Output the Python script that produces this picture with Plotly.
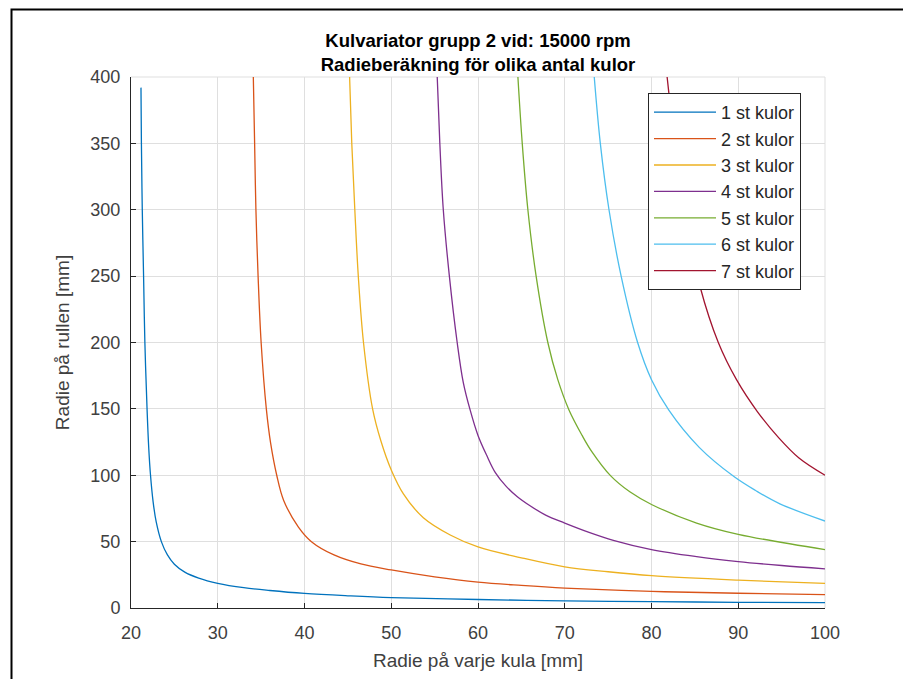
import plotly.graph_objects as go

# ---- data ----
x1 = [21.15, 21.2, 21.3, 21.45, 21.6, 21.85, 22.05, 22.25, 22.55, 22.9, 23.5, 24.2, 25.0, 26.2, 27.8, 30.0, 33.0, 36.0, 40.0, 45.0, 50.0, 60.0, 70.0, 80.0, 90.0, 100.0]
y1 = [392, 350, 300, 250, 200, 150, 120, 100, 80, 65, 50, 40, 33, 27, 22.5, 18.6, 15.3, 13.2, 11.0, 9.2, 7.8, 6.4, 5.4, 4.8, 4.3, 4.0]

x2 = [34.1, 34.25, 34.4, 34.65, 35.0, 35.6, 36.1, 36.8, 37.6, 39.3, 40.8, 43.4, 46.5, 50.0, 55.0, 60.0, 65.0, 70.0, 80.0, 90.0, 100.0]
y2 = [400, 350, 300, 250, 200, 150, 124, 100, 81, 61, 50, 40, 33.2, 28.7, 23.5, 19.5, 17.0, 15.0, 12.5, 11.1, 10.1]

x3 = [45.2, 45.45, 45.8, 46.2, 46.8, 47.85, 48.8, 50.0, 51.4, 53.7, 56.8, 60.0, 65.0, 70.0, 75.0, 80.0, 90.0, 100.0]
y3 = [400, 350, 300, 250, 200, 150, 126, 104, 86, 68, 55, 46, 37.8, 31, 27.3, 24.4, 21, 18.5]

x4 = [55.3, 55.6, 56.0, 56.7, 57.6, 58.3, 59.1, 60.0, 61.0, 62.0, 63.2, 64.5, 66.0, 67.8, 70.0, 72.8, 75.6, 80.0, 85.2, 90.0, 95.0, 100.0]
y4 = [400, 350, 300, 250, 200, 170, 149, 130, 115, 102, 92, 84, 77, 70, 64, 57, 51, 44, 38.7, 35, 32, 29.5]

x5 = [64.6, 65.1, 65.75, 66.7, 68.05, 69.2, 70.5, 72.0, 73.1, 75.3, 77.5, 80.0, 85.2, 90.0, 100.0]
y5 = [400, 350, 300, 250, 200, 172, 149, 130, 118, 99.5, 87.5, 78, 64, 55.5, 44]

x6 = [73.4, 74.1, 75.1, 76.5, 78.4, 80.0, 82.0, 85.5, 89.5, 92.0, 94.8, 100.0]
y6 = [400, 350, 300, 250, 200, 172, 149, 121, 99, 88.5, 78.5, 65.5]

x7 = [81.8, 82.0, 83.0, 84.2, 85.6, 87.7, 89.8, 92.2, 94.7, 97.0, 100.0]
y7 = [400, 388, 330, 285, 242, 200, 172, 148, 128, 113, 100]

series_x = [x1, x2, x3, x4, x5, x6, x7]
series_y = [y1, y2, y3, y4, y5, y6, y7]
names = ["1 st kulor", "2 st kulor", "3 st kulor", "4 st kulor", "5 st kulor", "6 st kulor", "7 st kulor"]
colors = ["#0072BD", "#D95319", "#EDB120", "#7E2F8E", "#77AC30", "#4DBEEE", "#A2142F"]

x_ticks = [20, 30, 40, 50, 60, 70, 80, 90, 100]
y_ticks = [0, 50, 100, 150, 200, 250, 300, 350, 400]

title_text = "<b>Kulvariator grupp 2 vid: 15000 rpm</b><br><b>Radieberäkning för olika antal kulor</b>"
x_title = "Radie på varje kula [mm]"
y_title = "Radie på rullen [mm]"

# ---- layout geometry (page pixels; the page body adds an 8px offset) ----
OFF = 8
W, H = 911 - OFF, 679 - OFF
L, R, T, B = 131, 825, 77, 608  # plot area in page pixels

fig = go.Figure()
for xs, ys, nm, c in zip(series_x, series_y, names, colors):
    fig.add_trace(go.Scatter(x=xs, y=ys, mode="lines", name=nm, legendgroup=nm,
                             line=dict(color=c, width=1.3, shape="spline", smoothing=1.0)))

def px_x(p):
    return (p - L) / (R - L)

def px_y(p):
    return (B - p) / (B - T)

font_family = "Liberation Sans, Arial, Helvetica, sans-serif"
tick_col = "#404040"

fig.update_layout(
    width=W, height=H,
    margin=dict(l=L - OFF, r=W - (R - OFF), t=T - OFF, b=H - (B - OFF)),
    paper_bgcolor="white", plot_bgcolor="white",
    font=dict(family=font_family, color="#262626"),
    title=dict(text=title_text, x=px_x((L + R) / 2), xref="paper", xanchor="center",
               y=1 - (47 - OFF) / H, yref="container", yanchor="top",
               font=dict(size=18.5, color="black", family=font_family)),
    xaxis=dict(range=[20, 100], tickvals=x_ticks, ticks="inside", ticklen=5, tickcolor="#262626",
               showline=True, linecolor="#262626", linewidth=1, mirror=False,
               showgrid=True, gridcolor="#dfdfdf", gridwidth=1, zeroline=False,
               tickfont=dict(size=18, color=tick_col), ticklabelstandoff=8,
               title=dict(text=x_title, font=dict(size=19, color=tick_col), standoff=12)),
    yaxis=dict(range=[0, 400], tickvals=y_ticks, ticks="inside", ticklen=5, tickcolor="#262626",
               showline=True, linecolor="#262626", linewidth=1, mirror=False,
               showgrid=True, gridcolor="#dfdfdf", gridwidth=1, zeroline=False,
               tickfont=dict(size=18, color=tick_col), ticklabelstandoff=6,
               title=dict(text=y_title, font=dict(size=19, color=tick_col), standoff=15)),
    legend=dict(x=px_x(648), y=px_y(93), xanchor="left", yanchor="top",
                bgcolor="white", bordercolor="#262626", borderwidth=1,
                font=dict(size=18, color="#262626"), tracegroupgap=0, itemwidth=62),
    showlegend=True,
)

# top and right light grid edges (MATLAB box off, grid on)
fig.add_shape(type="line", xref="paper", yref="paper", x0=0, x1=1, y0=1, y1=1,
              line=dict(color="#dfdfdf", width=1), layer="below")
fig.add_shape(type="line", xref="paper", yref="paper", x0=1, x1=1, y0=0, y1=1,
              line=dict(color="#dfdfdf", width=1), layer="below")

# outer figure frame
fig.add_shape(type="rect", xref="paper", yref="paper",
              x0=px_x(11.5), x1=px_x(909.5), y0=px_y(720), y1=px_y(9.5),
              line=dict(color="black", width=2), fillcolor="rgba(0,0,0,0)")

fig.write_html("out.html")
